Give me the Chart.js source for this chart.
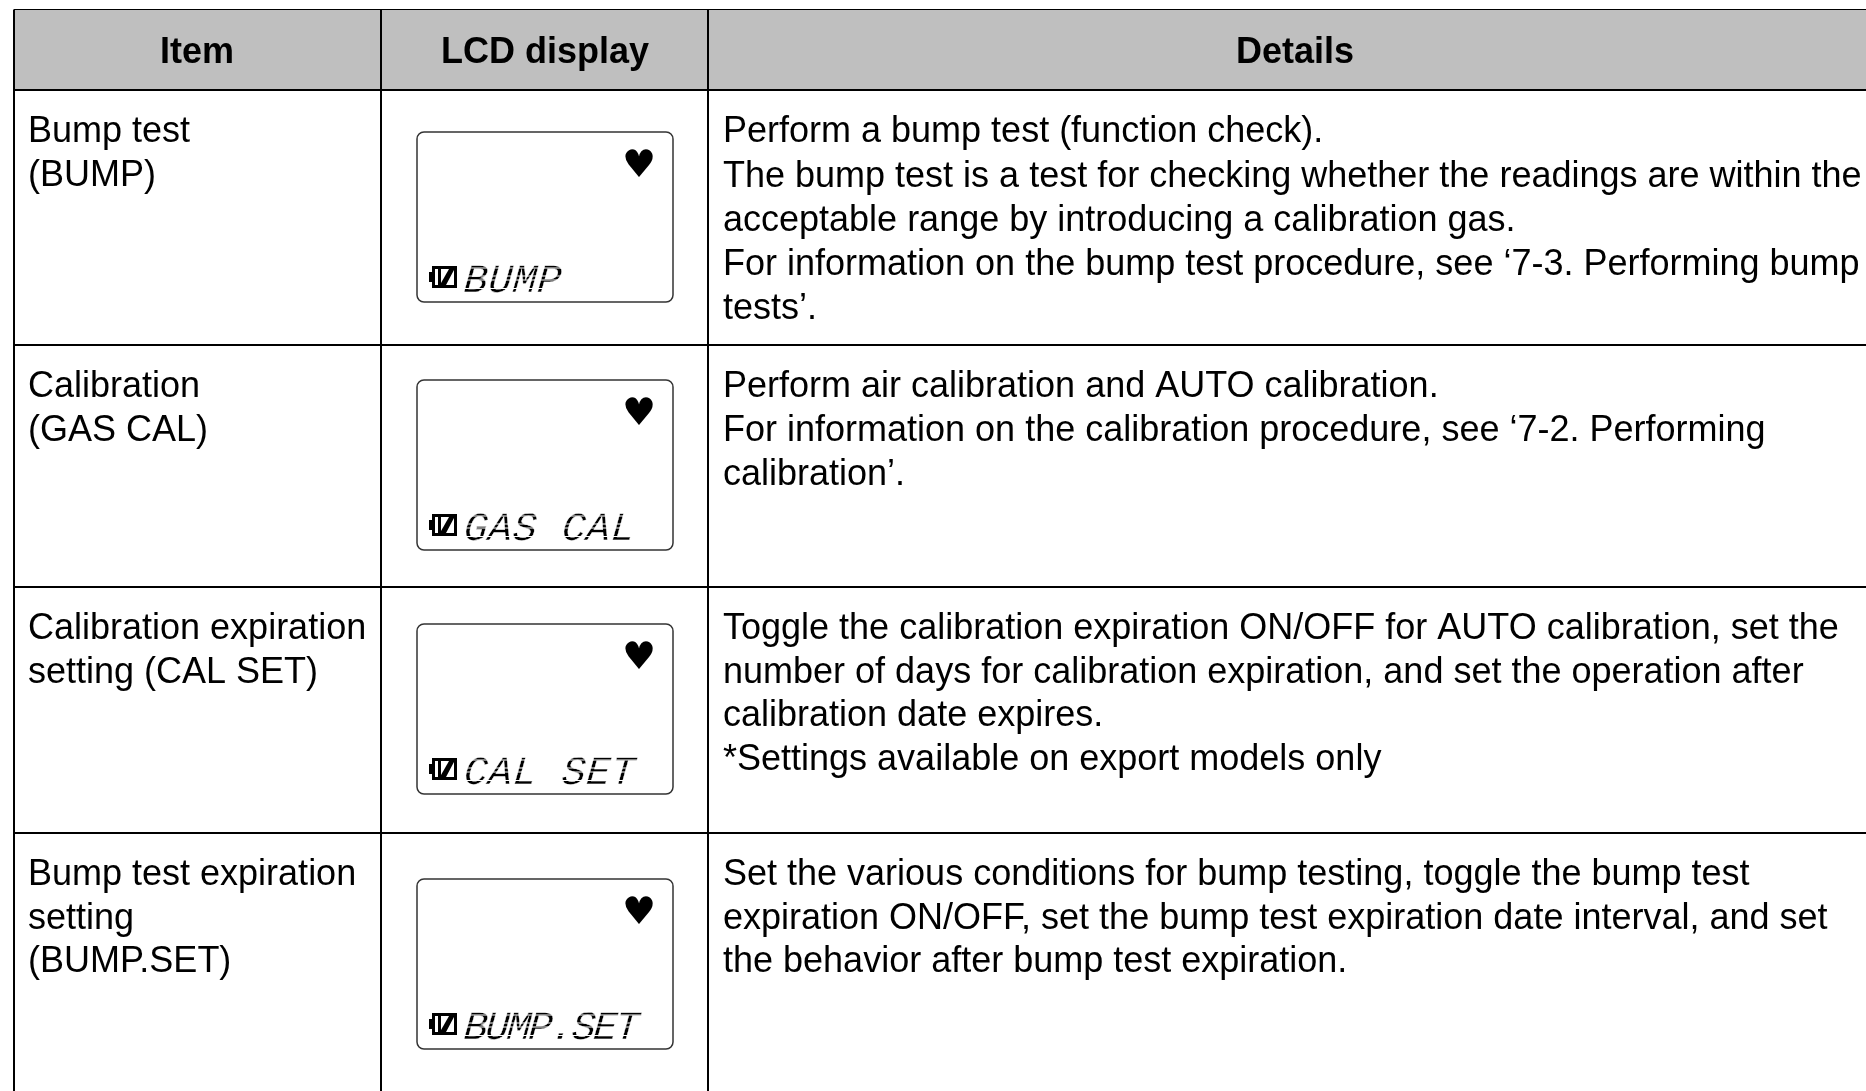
<!DOCTYPE html>
<html><head><meta charset="utf-8">
<style>html,body{margin:0;padding:0;background:#fff;overflow:hidden}canvas{display:block}</style>
<script src="https://cdn.jsdelivr.net/npm/chart.js@4"></script>
</head><body><canvas id="c" width="1866" height="1091"></canvas>
<script>
const headers = ["Item", "LCD display", "Details"];
const items = [
  ["Bump test", "(BUMP)"],
  ["Calibration", "(GAS CAL)"],
  ["Calibration expiration", "setting (CAL SET)"],
  ["Bump test expiration", "setting", "(BUMP.SET)"]
];
const lcdLabels = ["BUMP", "GAS CAL", "CAL SET", "BUMP.SET"];
const details = [
  ["Perform a bump test (function check).",
   "The bump test is a test for checking whether the readings are within the",
   "acceptable range by introducing a calibration gas.",
   "For information on the bump test procedure, see ‘7-3. Performing bump",
   "tests’."],
  ["Perform air calibration and AUTO calibration.",
   "For information on the calibration procedure, see ‘7-2. Performing",
   "calibration’."],
  ["Toggle the calibration expiration ON/OFF for AUTO calibration, set the",
   "number of days for calibration expiration, and set the operation after",
   "calibration date expires.",
   "*Settings available on export models only"],
  ["Set the various conditions for bump testing, toggle the bump test",
   "expiration ON/OFF, set the bump test expiration date interval, and set",
   "the behavior after bump test expiration."]
];
const columnEdges = [14, 381, 708];
const rowEdges = [9.5, 90, 345, 587, 833];
const lcdTops = [132, 380, 624, 879];

const BODY = '36px "Liberation Sans"';
const HEAD = 'bold 36px "Liberation Sans"';
const LINE = 43.5, FIRST = 52.3;
const detailLine = [44.2, 43.8, 43.4, 43.2];

const tablePlugin = {
  id: 'table',
  beforeDraw(chart) {
    const {ctx, scales: {x, y}} = chart;
    ctx.save();
    ctx.fillStyle = '#fff';
    ctx.fillRect(0, 0, chart.width, chart.height);
    ctx.fillStyle = '#bfbfbf';
    ctx.fillRect(x.getPixelForValue(14), y.getPixelForValue(9.5), chart.width, y.getPixelForValue(90) - y.getPixelForValue(9.5));
    ctx.restore();
  },
  afterDraw(chart) {
    const {ctx, scales: {x, y}} = chart;
    const X = v => x.getPixelForValue(v), Y = v => y.getPixelForValue(v);
    ctx.save();
    ctx.fillStyle = '#000';
    ctx.textBaseline = 'alphabetic';
    ctx.font = HEAD; ctx.textAlign = 'center';
    [197, 545, 1295].forEach((cx, i) => ctx.fillText(headers[i], X(cx), Y(63)));
    ctx.textAlign = 'left'; ctx.font = BODY;
    items.forEach((lines, r) => lines.forEach((t, i) =>
      ctx.fillText(t, X(28), Y(rowEdges[r + 1] + FIRST + i * LINE))));
    details.forEach((lines, r) => lines.forEach((t, i) =>
      ctx.fillText(t, X(723), Y(rowEdges[r + 1] + FIRST + i * detailLine[r]))));
    lcdLabels.forEach((label, r) => drawLcd(ctx, X(417), Y(lcdTops[r]), label));
    ctx.restore();
  }
};

function drawLcd(ctx, left, top, label) {
  const w = 256, h = 170;
  ctx.strokeStyle = '#333'; ctx.lineWidth = 1.5;
  ctx.beginPath(); ctx.roundRect(left, top, w, h, 7); ctx.stroke();
  // heart
  ctx.fillStyle = '#000'; ctx.textAlign = 'center';
  ctx.font = '38px "DejaVu Sans"';
  ctx.fillText('♥', left + 222, top + 45);
  // battery
  const bx = left + 12, by = top + h - 36;
  ctx.fillRect(bx, by + 6, 4, 10);
  ctx.fillRect(bx + 3, by, 25, 22);
  ctx.fillStyle = '#fff';
  ctx.fillRect(bx + 6, by + 3, 3, 16);
  ctx.beginPath();
  ctx.moveTo(bx + 12, by + 3); ctx.lineTo(bx + 20, by + 3); ctx.lineTo(bx + 12, by + 17); ctx.closePath(); ctx.fill();
  ctx.beginPath();
  ctx.moveTo(bx + 25, by + 4); ctx.lineTo(bx + 25, by + 19); ctx.lineTo(bx + 17, by + 19); ctx.closePath(); ctx.fill();
  // LCD label
  const base = top + h - 10, pitch = label.length > 7 ? 21.6 : 24.5;
  const size = 40, lx = left + 46;
  ctx.save();
  ctx.textAlign = 'left';
  ctx.font = 'italic ' + size + 'px "Liberation Mono"';
  ctx.letterSpacing = (pitch - size * 0.6) + 'px';
  ctx.transform(1, 0, -0.08, 1, 0.08 * base, 0);
  ctx.fillStyle = '#000';
  ctx.fillText(label, lx, base);
  ctx.strokeStyle = '#fff'; ctx.lineWidth = 0.4;
  ctx.strokeText(label, lx, base);
  ctx.restore();
  // segment gaps
  ctx.strokeStyle = '#fff'; ctx.lineWidth = 1;
  [3.5, 12, 16, 24].forEach(dy => {
    ctx.beginPath(); ctx.moveTo(left + 40, base - dy); ctx.lineTo(left + 235, base - dy); ctx.stroke();
  });
}

new Chart(document.getElementById('c'), {
  type: 'scatter',
  data: { datasets: [{ data: [], pointRadius: 0 }] },
  plugins: [tablePlugin],
  options: {
    responsive: false, animation: false, devicePixelRatio: 1,
    layout: { padding: { left: 14, top: 9.5, right: 0, bottom: 0 } },
    plugins: { legend: { display: false }, tooltip: { enabled: false }, title: { display: false } },
    scales: {
      x: { type: 'linear', min: 14, max: 1866,
        border: { display: false }, ticks: { display: false },
        grid: { color: '#000', lineWidth: 2, drawTicks: false },
        afterBuildTicks: a => { a.ticks = columnEdges.map(value => ({ value })); } },
      y: { type: 'linear', reverse: true, min: 9.5, max: 1091,
        border: { display: false }, ticks: { display: false },
        grid: { color: '#000', lineWidth: c => c.tick && c.tick.value === 9.5 ? 1 : 2, drawTicks: false },
        afterBuildTicks: a => { a.ticks = rowEdges.map(value => ({ value })); } }
    }
  }
});
</script></body></html>
